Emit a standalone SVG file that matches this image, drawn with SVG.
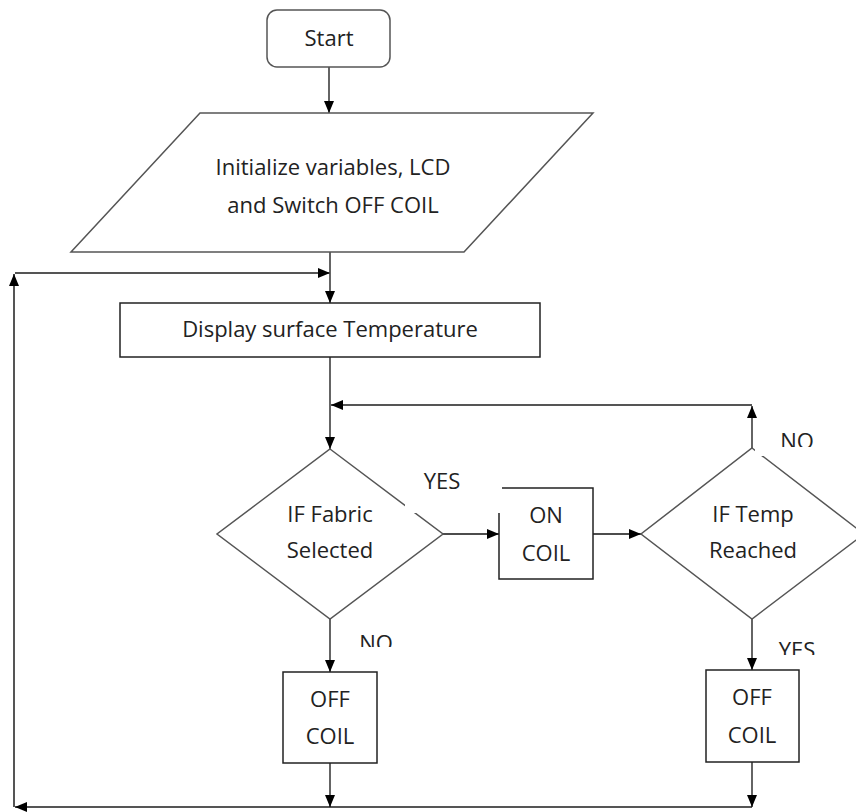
<svg xmlns="http://www.w3.org/2000/svg" width="856" height="812" viewBox="0 0 856 812">
<style>
.t{font-family:"Open Sans","Liberation Sans",sans-serif;font-size:22px;fill:#222;text-anchor:middle}
.box{fill:#fff;stroke:#222;stroke-width:1.5}
.shape{fill:#fff;stroke:#555;stroke-width:1.5}
.c{fill:none;stroke:#111;stroke-width:1.3}
.cl{fill:none;stroke:#555;stroke-width:2}
.mask{fill:#fff;stroke:none}
</style>
<defs>
<marker id="ah" markerUnits="userSpaceOnUse" markerWidth="12" markerHeight="10" refX="12" refY="5" orient="auto">
<path d="M0,0 L12,5 L0,10 z" fill="#000"/>
</marker>
<clipPath id="cNO1"><rect x="740" y="400" width="116" height="47"/></clipPath>
<clipPath id="cNO2"><rect x="340" y="620" width="80" height="27"/></clipPath>
<clipPath id="cYES2"><rect x="760" y="625" width="96" height="30"/></clipPath>
</defs>

<g id="connectors">
<path class="c" d="M329,67 V113" marker-end="url(#ah)"/>
<path class="c" d="M330,252 V303" marker-end="url(#ah)"/>
<path class="cl" d="M752,807 H15" marker-end="url(#ah)"/>
<path class="cl" d="M14,807 V274" marker-end="url(#ah)"/>
<path class="cl" d="M15,273 H330" marker-end="url(#ah)"/>
<path class="c" d="M330,357 V449" marker-end="url(#ah)"/>
<path class="c" d="M752,448 V406" marker-end="url(#ah)"/>
<path class="cl" d="M752,405 H331" marker-end="url(#ah)"/>
<path class="c" d="M443,534 H499" marker-end="url(#ah)"/>
<path class="c" d="M593,534 H641" marker-end="url(#ah)"/>
<path class="c" d="M330,619 V672" marker-end="url(#ah)"/>
<path class="c" d="M752,619 V670" marker-end="url(#ah)"/>
<path class="c" d="M330,763 V807" marker-end="url(#ah)"/>
<path class="c" d="M752,762 V807" marker-end="url(#ah)"/>
</g>

<g id="start">
<rect class="shape" x="267" y="10" width="123" height="57" rx="10"/>
<text class="t" x="329" y="46">Start</text>
</g>

<g id="init">
<polygon class="shape" points="200,113 593,113 464,252 71,252"/>
<text class="t" x="333" y="175">Initialize variables, LCD</text>
<text class="t" x="333" y="213">and Switch OFF COIL</text>
</g>

<g id="display">
<rect class="box" x="120" y="303" width="420" height="54"/>
<text class="t" x="330" y="337">Display surface Temperature</text>
</g>

<g id="fabric">
<polygon class="shape" points="330,449 443,534 330,619 217,534"/>
<text class="t" x="330" y="522">IF Fabric</text>
<text class="t" x="330" y="558">Selected</text>
</g>

<g id="oncoil">
<rect class="box" x="499" y="488" width="94" height="91"/>
<text class="t" x="546" y="523">ON</text>
<text class="t" x="546" y="561">COIL</text>
</g>

<g id="temp">
<polygon class="shape" points="752,448 864,534 752,619 641,534"/>
<text class="t" x="753" y="522">IF Temp</text>
<text class="t" x="753" y="558">Reached</text>
</g>

<g id="offcoil1">
<rect class="box" x="283" y="672" width="94" height="91"/>
<text class="t" x="330" y="707">OFF</text>
<text class="t" x="330" y="744">COIL</text>
</g>

<g id="offcoil2">
<rect class="box" x="706" y="670" width="93" height="92"/>
<text class="t" x="752" y="705">OFF</text>
<text class="t" x="752" y="743">COIL</text>
</g>

<g id="labels">
<rect class="mask" x="405" y="464" width="97" height="49"/>
<text class="t" x="442" y="489">YES</text>
<rect class="mask" x="755" y="425" width="70" height="31"/>
<text class="t" x="797" y="449" clip-path="url(#cNO1)">NO</text>
<text class="t" x="376" y="651" clip-path="url(#cNO2)">NO</text>
<text class="t" x="797" y="658" clip-path="url(#cYES2)">YES</text>
</g>
</svg>
